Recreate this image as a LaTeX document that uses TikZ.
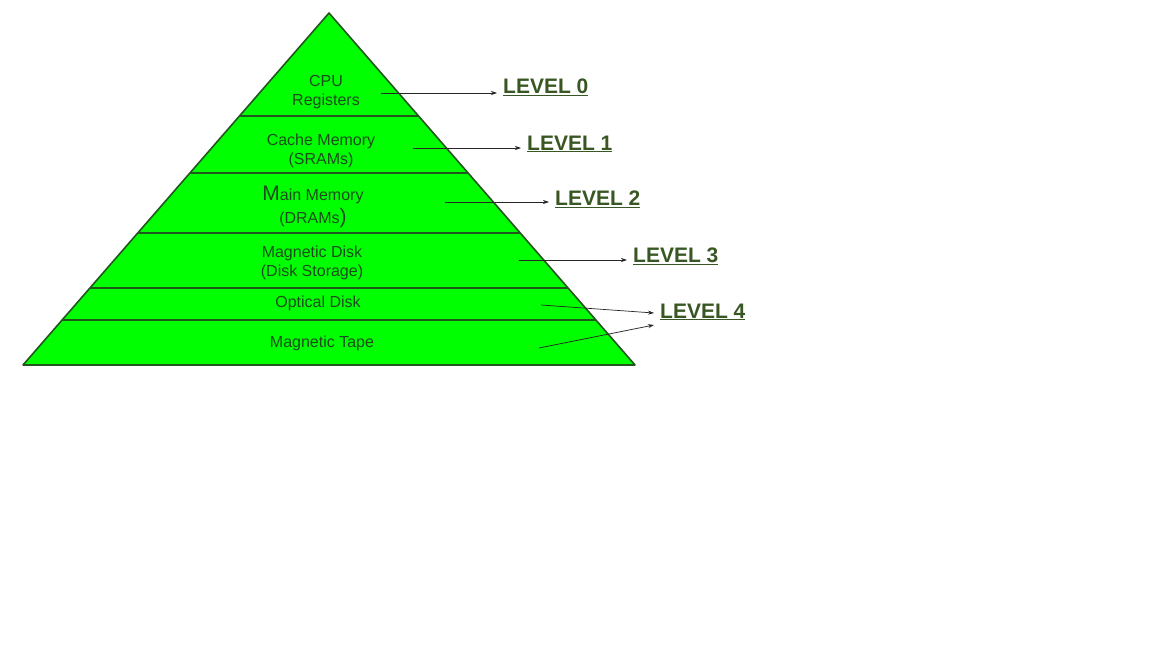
\documentclass[tikz,border=0pt]{standalone}
\usepackage{fontspec}
\setmainfont{Liberation Sans}
\usetikzlibrary{arrows.meta, calc}
\definecolor{pyrgreen}{RGB}{0,255,0}
\definecolor{edgegreen}{RGB}{35,85,30}
\definecolor{txtgreen}{RGB}{30,75,30}
\definecolor{lvlgreen}{RGB}{56,87,35}
\newcommand{\bigch}[1]{{\fontsize{21}{24}\selectfont #1}}

\begin{document}
\begin{tikzpicture}[x=1pt, y=-1pt,
        layer/.style={align=center, text=txtgreen, font=\fontsize{16}{19}\selectfont, inner sep=0pt},
        level/.style={anchor=west, inner xsep=6pt, inner ysep=0pt, text=lvlgreen, font=\fontsize{21}{24}\selectfont\bfseries},
        arrow/.style={-{Stealth[length=6pt, width=4pt]}, line width=0.7pt, draw=black!85}
    ]
    \useasboundingbox[fill=white] (0,0) rectangle (1152,648);

    % pyramid
    \coordinate (apex) at (329,13);
    \coordinate (bl) at (23,365);
    \coordinate (br) at (635,365);
    \draw[fill=pyrgreen, draw=edgegreen, line width=1.6pt, line join=round] (apex) -- (bl) -- (br) -- cycle;
    \foreach \t in {0.2926, 0.4545, 0.625, 0.7813, 0.8722}
        \draw[edgegreen, line width=1.6pt] ($(apex)!\t!(bl)$) -- ($(apex)!\t!(br)$);

    % layers
    \node[layer] (cpu) at (326,92) {CPU\\Registers};
    \node[layer] (cache) at (321,151) {Cache Memory\\(SRAMs)};
    \node[layer] (main) at (313,207) {\bigch{M}ain Memory\\[4pt](DRAMs\bigch{)}};
    \node[layer] (disk) at (312,263) {Magnetic Disk\\(Disk Storage)};
    \node[layer] (optical) at (318,303) {Optical Disk};
    \node[layer] (tape) at (322,343) {Magnetic Tape};

    % levels
    \node[level] (lvl0) at (497,87) {\underline{LEVEL 0}};
    \node[level] (lvl1) at (521,144) {\underline{LEVEL 1}};
    \node[level] (lvl2) at (549,199) {\underline{LEVEL 2}};
    \node[level] (lvl3) at (627,256) {\underline{LEVEL 3}};
    \node[level] (lvl4) at (654,312) {\underline{LEVEL 4}};

    \coordinate (t0) at (381,93);
    \coordinate (t1) at (413,148);
    \coordinate (t2) at (445,202);
    \coordinate (t3) at (519,260);
    \coordinate (t4a) at (541,305);
    \coordinate (t4b) at (539,348);

    \draw[arrow] (t0) -- (lvl0.west |- t0);
    \draw[arrow] (t1) -- (lvl1.west |- t1);
    \draw[arrow] (t2) -- (lvl2.west |- t2);
    \draw[arrow] (t3) -- (lvl3.west |- t3);
    \draw[arrow] (t4a) -- ([yshift=-1pt]lvl4.west);
    \draw[arrow] (t4b) -- ([yshift=-13pt]lvl4.west);

\end{tikzpicture}
\end{document}
